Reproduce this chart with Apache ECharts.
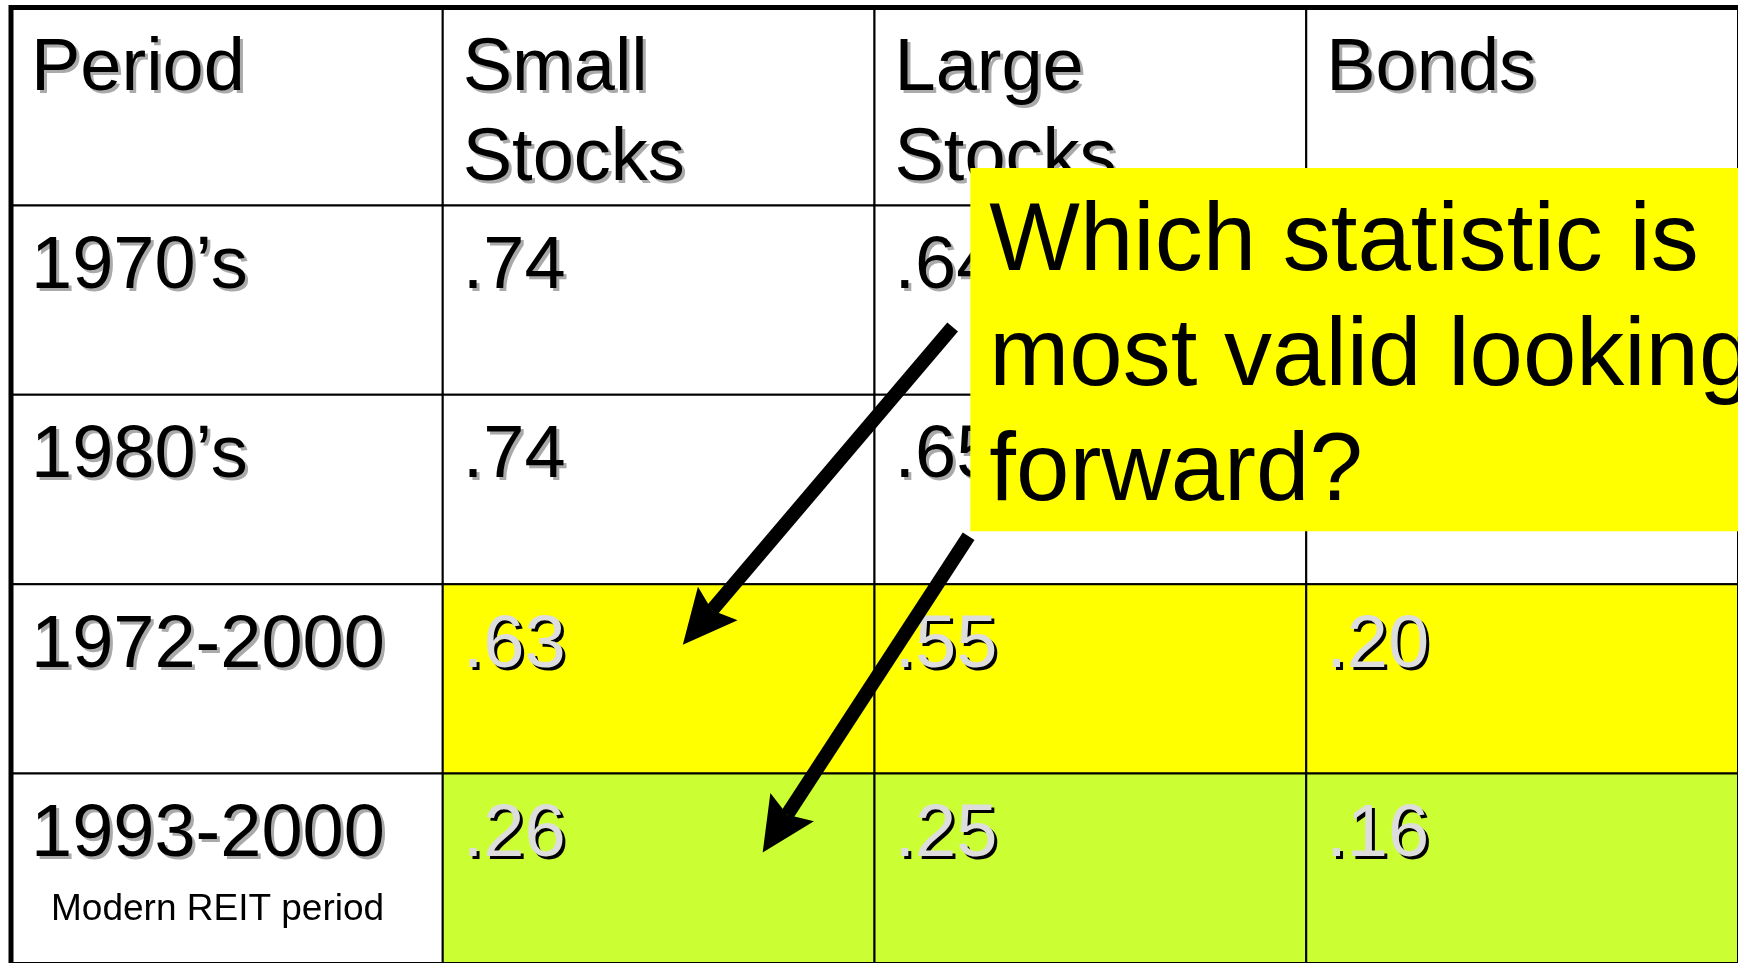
<!DOCTYPE html>
<html>
<head>
<meta charset="utf-8">
<title>REIT correlations</title>
<script src="https://cdn.jsdelivr.net/npm/echarts@6/dist/echarts.min.js"></script>
<style>
  html, body { margin: 0; padding: 0; background: #fff; }
  #chart { width: 1738px; height: 963px; }
</style>
</head>
<body>
<div id="chart"></div>
<script>
const columnHeaders = ['Period', 'Small\nStocks', 'Large\nStocks', 'Bonds'];
const periods = ['1970’s', '1980’s', '1972-2000', '1993-2000'];
const periodNotes = ['', '', '', 'Modern REIT period'];
const smallStocks = [0.74, 0.74, 0.63, 0.26];
const largeStocks = [0.64, 0.65, 0.55, 0.25];
// 1970's / 1980's bond values are hidden under the callout in the source
const bonds = [null, null, 0.20, 0.16];
const calloutLines = ['Which statistic is', 'most valid looking', 'forward?'];

// annotation placement, in table units (column, row)
const calloutBox = [2.222, 0.802, 4.2, 2.721];
const arrows = [
  [2.181, 1.642, 1.556, 3.319],
  [2.218, 2.747, 1.741, 4.416]
];

const TOP = -0.045;
const FONT = 'Arial, "Liberation Sans", Helvetica, sans-serif';
const rowFills = { 2: '#ffff00', 3: '#ccff33' };

const fmt = (v) => (v == null ? '' : v.toFixed(2).replace(/^0/, ''));

const cells = [];
columnHeaders.forEach((h, c) => cells.push([c, 0, h, '']));
periods.forEach((p, r) => {
  cells.push([0, r + 1, p, periodNotes[r]]);
  cells.push([1, r + 1, fmt(smallStocks[r]), '']);
  cells.push([2, r + 1, fmt(largeStocks[r]), '']);
  cells.push([3, r + 1, fmt(bonds[r]), '']);
});

function shadowText(x, y, text, size, fill, shadow, lineHeight) {
  const base = {
    text: text,
    font: size + 'px ' + FONT,
    textAlign: 'left',
    textVerticalAlign: 'top',
    lineHeight: lineHeight
  };
  return [
    { type: 'text', x: x + 3, y: y + 3, style: Object.assign({}, base, { fill: shadow }) },
    { type: 'text', x: x, y: y, style: Object.assign({}, base, { fill: fill }) }
  ];
}

function renderCell(params, api) {
  const cell = cells[params.dataIndex];
  const c = cell[0];
  const r = cell[1];
  const p0 = api.coord([c, r === 0 ? TOP : r]);
  const p1 = api.coord([c + 1, r + 1]);
  const fill = c > 0 ? rowFills[r - 1] : null;
  const children = [{
    type: 'rect',
    shape: { x: p0[0], y: p0[1], width: p1[0] - p0[0], height: p1[1] - p0[1] },
    style: { fill: fill || '#fff', stroke: '#000', lineWidth: 2 }
  }];
  if (cell[2]) {
    children.push.apply(children, shadowText(
      p0[0] + 20, p0[1] + 17, cell[2], 74,
      fill ? '#dddddd' : '#000', fill ? '#000' : '#aaaaaa', 90
    ));
  }
  if (cell[3]) {
    children.push({
      type: 'text',
      x: p0[0] + 40,
      y: p0[1] + 136,
      style: { text: cell[3], font: '37px ' + FONT, fill: '#000', textVerticalAlign: 'middle' }
    });
  }
  return { type: 'group', children: children };
}

function renderFrame(params, api) {
  const a = api.coord([0, 5]);
  const b = api.coord([0, TOP]);
  const c = api.coord([4.2, TOP]);
  return {
    type: 'polyline',
    shape: { points: [a, b, c] },
    style: { fill: 'none', stroke: '#000', lineWidth: 5 }
  };
}

function renderCallout(params, api) {
  const p0 = api.coord([calloutBox[0], calloutBox[1]]);
  const p1 = api.coord([calloutBox[2], calloutBox[3]]);
  return {
    type: 'group',
    children: [{
      type: 'rect',
      shape: { x: p0[0], y: p0[1], width: p1[0] - p0[0], height: p1[1] - p0[1] },
      style: { fill: '#ffff00' }
    }, {
      type: 'text',
      x: p0[0] + 19,
      y: p0[1] + 18,
      style: {
        text: calloutLines.join('\n'),
        font: '96px ' + FONT,
        fill: '#000',
        textVerticalAlign: 'top',
        lineHeight: 115
      }
    }]
  };
}

function renderArrow(params, api) {
  const a = api.coord([api.value(0), api.value(1)]);
  const b = api.coord([api.value(2), api.value(3)]);
  const dx = b[0] - a[0];
  const dy = b[1] - a[1];
  const len = Math.hypot(dx, dy);
  const ux = dx / len;
  const uy = dy / len;
  const nx = -uy;
  const ny = ux;
  const headLen = 54;
  const half = 26;
  const notch = 45;
  const base = [b[0] - ux * headLen, b[1] - uy * headLen];
  const inner = [b[0] - ux * notch, b[1] - uy * notch];
  return {
    type: 'group',
    children: [{
      type: 'line',
      shape: { x1: a[0], y1: a[1], x2: inner[0], y2: inner[1] },
      style: { stroke: '#000', lineWidth: 14, lineCap: 'butt' }
    }, {
      type: 'polygon',
      shape: {
        points: [
          b,
          [base[0] + nx * half, base[1] + ny * half],
          inner,
          [base[0] - nx * half, base[1] - ny * half]
        ]
      },
      style: { fill: '#000' }
    }]
  };
}

const chart = echarts.init(document.getElementById('chart'), null, { renderer: 'canvas' });
chart.setOption({
  animation: false,
  backgroundColor: '#fff',
  grid: { left: 11, top: 7.5, width: 1728, height: 958.55 },
  xAxis: { type: 'value', min: 0, max: 4, show: false },
  yAxis: { type: 'value', min: TOP, max: 5, inverse: true, show: false },
  series: [
    {
      type: 'custom',
      name: 'cells',
      renderItem: renderCell,
      data: cells.map((d) => [d[0], d[1]]),
      z: 1,
      silent: true
    },
    {
      type: 'custom',
      name: 'frame',
      renderItem: renderFrame,
      data: [[0, 0]],
      z: 2,
      silent: true
    },
    {
      type: 'custom',
      name: 'arrows',
      renderItem: renderArrow,
      data: arrows,
      z: 3,
      silent: true
    },
    {
      type: 'custom',
      name: 'callout',
      renderItem: renderCallout,
      data: [calloutBox],
      z: 4,
      silent: true
    }
  ]
});
</script>
</body>
</html>
